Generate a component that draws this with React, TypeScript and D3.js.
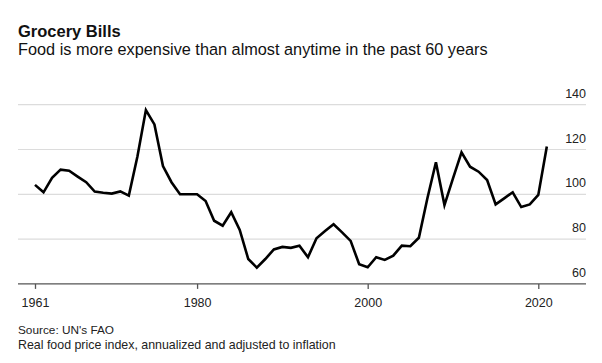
import React, {useRef, useEffect} from 'react'
import * as d3 from 'd3'

const years = [1961, 1962, 1963, 1964, 1965, 1966, 1967, 1968, 1969, 1970,
	1971, 1972, 1973, 1974, 1975, 1976, 1977, 1978, 1979, 1980,
	1981, 1982, 1983, 1984, 1985, 1986, 1987, 1988, 1989, 1990,
	1991, 1992, 1993, 1994, 1995, 1996, 1997, 1998, 1999, 2000,
	2001, 2002, 2003, 2004, 2005, 2006, 2007, 2008, 2009, 2010,
	2011, 2012, 2013, 2014, 2015, 2016, 2017, 2018, 2019, 2020, 2021]

const foodIndex = [104.2, 100.9, 107.4, 111.0, 110.5, 107.9, 105.4, 101.2, 100.7, 100.3,
	101.3, 99.4, 116.8, 137.6, 131.2, 112.6, 105.4, 100.0, 100.0, 100.0,
	97.0, 88.2, 86.0, 92.0, 84.1, 71.1, 67.3, 71.1, 75.4, 76.5,
	76.1, 77.0, 71.9, 80.4, 83.6, 86.6, 83.0, 79.2, 68.8, 67.4,
	71.9, 70.7, 72.6, 77.1, 76.8, 80.6, 98.2, 114.3, 95.2, 107.1,
	118.7, 112.3, 110.1, 106.4, 95.5, 98.2, 100.9, 94.3, 95.5, 99.7, 121.3]

const yTicks = [60, 80, 100, 120, 140]
const xTicks = [1961, 1980, 2000, 2020]

const title = 'Grocery Bills'
const subtitle = 'Food is more expensive than almost anytime in the past 60 years'
const source = "Source: UN's FAO"
const note = 'Real food price index, annualized and adjusted to inflation'

export default function App() {
	const ref = useRef<SVGSVGElement>(null)

	const layout = {width: 602, height: 363, left: 18, right: 586, top: 104.7, bottom: 283.9}
	const font = '"Liberation Sans", Arial, Helvetica, sans-serif'

	useEffect(() => {
		const svg = d3.select(ref.current)
		svg.selectAll('*').remove()

		const xScale = d3.scaleLinear()
			.domain([1961, 2020])
			.range([35, 538.3])

		const yScale = d3.scaleLinear()
			.domain([60, 140])
			.range([layout.bottom, layout.top])

		// titles
		svg.append('text')
			.attr('x', 18).attr('y', 37)
			.attr('font-family', font).attr('font-weight', 'bold').attr('font-size', 16.5)
			.attr('fill', '#111')
			.text(title)

		svg.append('text')
			.attr('x', 18).attr('y', 55)
			.attr('font-family', font).attr('font-size', 16.3)
			.attr('fill', '#111')
			.text(subtitle)

		// gridlines + y labels
		const grid = svg.append('g')
		grid.selectAll('.grid')
			.data(yTicks.filter(d => d !== 60))
			.join('line')
			.attr('class', 'grid')
			.attr('x1', layout.left).attr('x2', layout.right)
			.attr('y1', d => yScale(d)).attr('y2', d => yScale(d))
			.attr('stroke', '#dcdcdc').attr('stroke-width', 1.2)

		grid.selectAll('.ylab')
			.data(yTicks)
			.join('text')
			.attr('class', 'ylab')
			.attr('x', layout.right)
			.attr('y', d => yScale(d) - 7)
			.attr('text-anchor', 'end')
			.attr('font-family', font).attr('font-size', 12.5)
			.attr('fill', '#222')
			.text(d => d)

		// x axis
		svg.append('line')
			.attr('x1', layout.left).attr('x2', layout.right)
			.attr('y1', layout.bottom).attr('y2', layout.bottom)
			.attr('stroke', '#555').attr('stroke-width', 1.3)

		const gx = svg.append('g')
			.attr('transform', `translate(0, ${layout.bottom})`)
			.call(d3.axisBottom(xScale).tickValues(xTicks).tickSize(5).tickPadding(9).tickFormat(d3.format('d')))
		gx.select('.domain').remove()
		gx.selectAll('line').attr('stroke', '#555').attr('stroke-width', 1.3)
		gx.selectAll('text')
			.attr('font-family', font).attr('font-size', 12.5).attr('fill', '#222')

		// line
		const line = d3.line<number>()
			.x((d, i) => xScale(years[i]))
			.y(d => yScale(d))

		svg.append('path')
			.datum(foodIndex)
			.attr('d', line)
			.attr('fill', 'none')
			.attr('stroke', '#000')
			.attr('stroke-width', 2.6)
			.attr('stroke-linejoin', 'miter')

		// footer
		svg.append('text')
			.attr('x', 18).attr('y', 334)
			.attr('font-family', font).attr('font-size', 11.8)
			.attr('fill', '#222')
			.text(source)

		svg.append('text')
			.attr('x', 18).attr('y', 348.5)
			.attr('font-family', font).attr('font-size', 12.4)
			.attr('fill', '#222')
			.text(note)
	}, [])

	return (
		<svg ref={ref} width={layout.width} height={layout.height}
			style={{position: 'absolute', left: 0, top: 0, background: '#fff'}} />
	)
}
